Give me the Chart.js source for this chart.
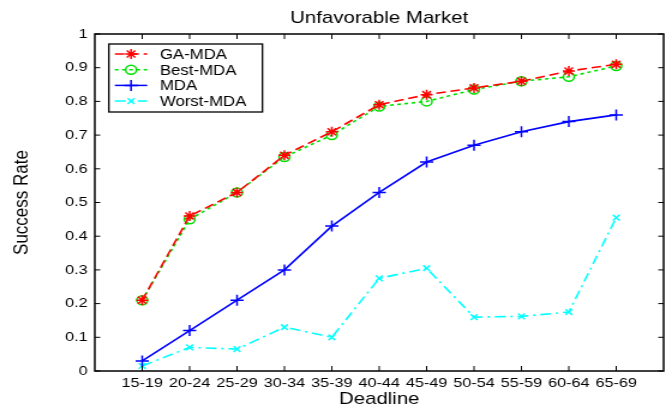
<!DOCTYPE html>
<html>
<head>
<meta charset="utf-8">
<script src="https://cdn.jsdelivr.net/npm/chart.js@4/dist/chart.umd.min.js"></script>
<style>
  html, body { margin: 0; padding: 0; background: #fff; overflow: hidden; }
  /* the source figure is stretched sideways, so draw narrow and widen it */
  #chart { transform: scaleX(1.2); transform-origin: 0 0; display: block; }
</style>
</head>
<body>
<canvas id="chart" width="560" height="411"></canvas>
<script>
const categories = ['15-19', '20-24', '25-29', '30-34', '35-39', '40-44', '45-49', '50-54', '55-59', '60-64', '65-69'];
const gaMda    = [0.21, 0.46, 0.53, 0.64, 0.71, 0.79, 0.82, 0.84, 0.86, 0.89, 0.91];
const bestMda  = [0.21, 0.45, 0.53, 0.635, 0.70, 0.785, 0.80, 0.835, 0.86, 0.873, 0.905];
const mda      = [0.03, 0.12, 0.21, 0.30, 0.43, 0.53, 0.62, 0.67, 0.71, 0.74, 0.76];
const worstMda = [0.015, 0.07, 0.065, 0.13, 0.10, 0.275, 0.305, 0.16, 0.162, 0.175, 0.455];
const yTicks   = [0, 0.1, 0.2, 0.3, 0.4, 0.5, 0.6, 0.7, 0.8, 0.9, 1];

const FONT = 'Liberation Sans, Arial, sans-serif';

// category i sits at x = i + 1 on a linear axis from 0 to 12
const toPoints = vals => vals.map((v, i) => ({ x: i + 1, y: v }));

function series(label, vals, color, style, dash, radius) {
  return {
    label: label,
    data: toPoints(vals),
    borderColor: color,
    borderWidth: 1.6,
    borderDash: dash,
    pointStyle: style,
    pointRadius: radius,
    pointBorderColor: color,
    pointBackgroundColor: 'rgba(0,0,0,0)',
    pointBorderWidth: 1.5,
    fill: false,
    tension: 0
  };
}

// box + inward ticks, like the matlab axes
const framePlugin = {
  id: 'frame',
  afterDatasetsDraw(chart) {
    const { ctx, chartArea: a, scales } = chart;
    ctx.save();
    ctx.strokeStyle = '#000';
    ctx.lineWidth = 1.5;
    ctx.strokeRect(a.left, a.top, a.right - a.left, a.bottom - a.top);
    ctx.lineWidth = 1;
    ctx.beginPath();
    categories.forEach((c, i) => {
      const x = scales.x.getPixelForValue(i + 1);
      ctx.moveTo(x, a.bottom); ctx.lineTo(x, a.bottom - 5);
      ctx.moveTo(x, a.top); ctx.lineTo(x, a.top + 5);
    });
    yTicks.forEach(v => {
      const y = scales.y.getPixelForValue(v);
      ctx.moveTo(a.left, y); ctx.lineTo(a.left + 4.5, y);
      ctx.moveTo(a.right, y); ctx.lineTo(a.right - 4.5, y);
    });
    ctx.stroke();
    ctx.restore();
  },
  afterDraw(chart) {
    // legend box in the upper left of the plot
    const { ctx, chartArea: a } = chart;
    const bx = a.left + 11.7, by = a.top + 10, bw = 128, bh = 68;
    ctx.save();
    ctx.fillStyle = '#fff';
    ctx.fillRect(bx, by, bw, bh);
    ctx.strokeStyle = '#000';
    ctx.lineWidth = 1.3;
    ctx.strokeRect(bx, by, bw, bh);
    chart.data.datasets.forEach((ds, i) => {
      const y = by + 10 + i * 15.7;
      ctx.strokeStyle = ds.borderColor;
      ctx.lineWidth = 1.5;
      ctx.setLineDash(ds.borderDash || []);
      ctx.beginPath();
      ctx.moveTo(bx + 5, y);
      ctx.lineTo(bx + 32, y);
      ctx.stroke();
      ctx.setLineDash([]);
      if (Chart.helpers && Chart.helpers.drawPoint) {
        ctx.fillStyle = 'rgba(0,0,0,0)';
        Chart.helpers.drawPoint(ctx, {
          pointStyle: ds.pointStyle, radius: ds.pointRadius, rotation: 0,
          borderWidth: 1.5
        }, bx + 18.5, y);
      }
      ctx.fillStyle = '#000';
      ctx.font = '14px ' + FONT;
      ctx.textBaseline = 'middle';
      ctx.textAlign = 'left';
      ctx.fillText(ds.label, bx + 42.5, y + 1);
    });
    ctx.restore();
  }
};

new Chart(document.getElementById('chart'), {
  type: 'line',
  data: {
    datasets: [
      series('GA-MDA', gaMda, '#ff0000', 'star', [8, 4], 5),
      series('Best-MDA', bestMda, '#00e000', 'circle', [3, 3], 4.5),
      series('MDA', mda, '#0000ff', 'cross', [], 5.5),
      series('Worst-MDA', worstMda, '#00ffff', 'crossRot', [9, 4, 2, 4], 4)
    ]
  },
  options: {
    responsive: false,
    devicePixelRatio: 1,
    animation: false,
    layout: { padding: { top: 0, left: 0, right: 3, bottom: 0 } },
    plugins: {
      legend: { display: false },
      tooltip: { enabled: false },
      title: {
        display: true,
        fullSize: false,
        text: 'Unfavorable Market',
        color: '#000',
        font: { family: FONT, size: 17, weight: 'normal' },
        padding: { top: 8, bottom: 5.6 }
      }
    },
    scales: {
      x: {
        type: 'linear',
        min: 0,
        max: 12,
        afterFit: s => { s.height = 40; },
        afterBuildTicks: s => { s.ticks = categories.map((c, i) => ({ value: i + 1 })); },
        grid: { display: false, drawTicks: false },
        border: { display: false },
        ticks: {
          autoSkip: false,
          maxRotation: 0,
          padding: 4,
          color: '#000',
          font: { family: FONT, size: 13.5 },
          callback: v => categories[v - 1] || ''
        },
        title: {
          display: true,
          text: 'Deadline',
          color: '#000',
          font: { family: FONT, size: 17 },
          padding: { top: 0, bottom: 1 }
        }
      },
      y: {
        min: 0,
        max: 1,
        afterFit: s => { s.width = 79; },
        afterBuildTicks: s => { s.ticks = yTicks.map(v => ({ value: v })); },
        grid: { display: false, drawTicks: false },
        border: { display: false },
        ticks: {
          padding: 6,
          color: '#000',
          font: { family: FONT, size: 13.5 },
          callback: v => String(v)
        },
        title: {
          display: true,
          text: 'Success Rate',
          color: '#000',
          font: { family: FONT, size: 17 },
          padding: { top: 8, bottom: 0 }
        }
      }
    }
  },
  plugins: [framePlugin]
});
</script>
</body>
</html>
